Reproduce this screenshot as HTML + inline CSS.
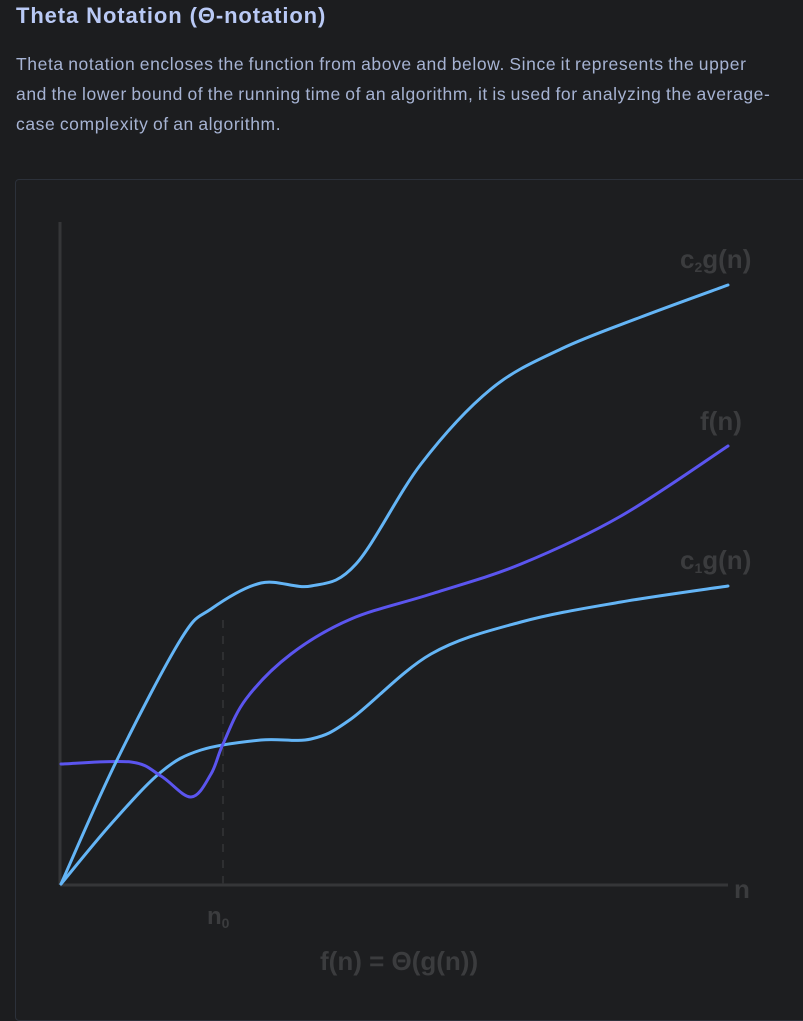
<!DOCTYPE html>
<html><head><meta charset="utf-8"><style>
html,body{margin:0;padding:0;background:#1c1d1f;width:803px;height:1002px;overflow:hidden;font-family:"Liberation Sans",sans-serif}
h2{position:absolute;left:16px;top:3px;margin:0;font-size:22px;font-weight:bold;color:#b9c9f5;letter-spacing:0.9px}
p{position:absolute;left:16px;top:49px;width:800px;margin:0;font-size:17.5px;line-height:30px;color:#a6b3d3;letter-spacing:0.6px;word-spacing:-1px;white-space:nowrap}
.card{position:absolute;left:15px;top:179px;width:800px;height:840px;border:1px solid #2c313a;border-radius:4px;background:#1d1e20}
svg{position:absolute;left:0;top:0}
</style></head><body>
<h2>Theta Notation (Θ-notation)</h2>
<p>Theta notation encloses the function from above and below. Since it represents the upper<br>and the lower bound of the running time of an algorithm, it is used for analyzing the average-<br>case complexity of an algorithm.</p>
<div class="card"></div>
<svg id="chart" width="803" height="1002">
<line x1="60" y1="222" x2="60" y2="885" stroke="#353638" stroke-width="3"/>
<line x1="60" y1="885" x2="728" y2="885" stroke="#353638" stroke-width="3"/>
<line x1="223" y1="620" x2="223" y2="884" stroke="#2e2f31" stroke-width="2" stroke-dasharray="8,8"/>
<g font-family="'Liberation Sans',sans-serif" font-weight="bold" fill="#3b3c3e">
<text x="734" y="898" font-size="26">n</text>
<text x="207" y="924" font-size="24">n<tspan font-size="14" dy="4">0</tspan></text>
<text x="320" y="970" font-size="26">f(n) = Θ(g(n))</text>
<text x="680" y="268" font-size="26">c<tspan font-size="14" dy="4">2</tspan><tspan dy="-4">g(n)</tspan></text>
<text x="700" y="430" font-size="26">f(n)</text>
<text x="680" y="569" font-size="26">c<tspan font-size="14" dy="4">1</tspan><tspan dy="-4">g(n)</tspan></text>
</g>
</svg>
<script>
const c2X=[0,55,120,150,200,250,295,360,430,500,580,667];
const c2Y=[0,122,245,275,301,298,320,420,495,535,567,599];
const fX=[0,70,100,130,150,162,185,230,290,370,460,560,667];
const fY=[120,122,108,87,110,140,185,230,265,290,320,368,438];
const c1X=[0,50,100,140,200,250,290,370,460,560,667];
const c1Y=[0,60,112,134,144,145,165,230,262,282,298];
const X0=61,Y0=884;
function sx(v){return X0+v;}
function sy(v){return Y0-v;}
function pathFrom(xs,ys){
  const p=xs.map((x,i)=>[sx(x),sy(ys[i])]);
  let d='M'+p[0][0]+','+p[0][1];
  for(let i=0;i<p.length-1;i++){
    const a=p[i-1]||p[i],b=p[i],c=p[i+1],e=p[i+2]||c;
    const c1=[b[0]+(c[0]-a[0])/6,b[1]+(c[1]-a[1])/6];
    const c2=[c[0]-(e[0]-b[0])/6,c[1]-(e[1]-b[1])/6];
    d+=' C'+c1[0]+','+c1[1]+' '+c2[0]+','+c2[1]+' '+c[0]+','+c[1];
  }
  return d;
}
const svg=document.getElementById('chart');
function add(xs,ys,color,name){
  const el=document.createElementNS('http://www.w3.org/2000/svg','path');
  el.setAttribute('d',pathFrom(xs,ys));
  el.setAttribute('fill','none');el.setAttribute('stroke',color);
  el.setAttribute('stroke-width','3');el.setAttribute('stroke-linecap','round');
  
  
  svg.appendChild(el);
}
add(c1X,c1Y,'#64b5f6','c1g-curve');
add(fX,fY,'#5b55ef','f-curve');
add(c2X,c2Y,'#64b5f6','c2g-curve');
</script>
</body></html>
